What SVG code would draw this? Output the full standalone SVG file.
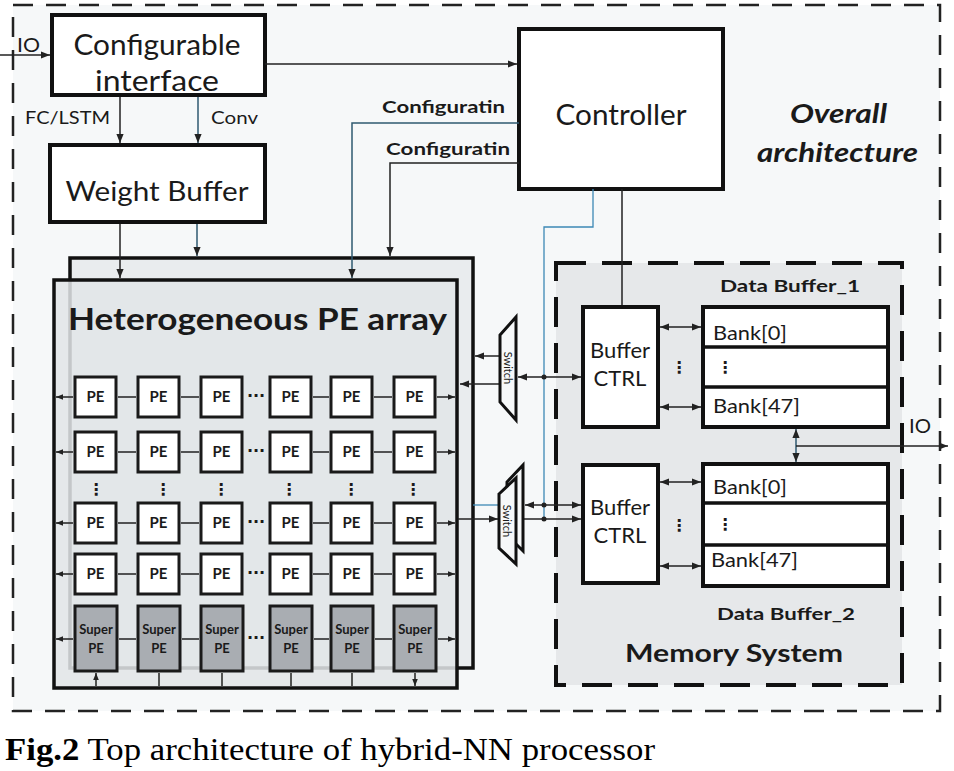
<svg xmlns="http://www.w3.org/2000/svg" width="954" height="771" viewBox="0 0 954 771">
<style>
.box{fill:#fff;stroke:#111;stroke-width:4}
.pe{fill:#fff;stroke:#1a1a1a;stroke-width:3}
.spe{fill:#a9adb2;stroke:#1a1a1a;stroke-width:3}
.t{font-family:Lato,"Liberation Sans",sans-serif;fill:#1a1a1a}
.b{font-weight:bold}
.pt{font-family:Lato,"Liberation Sans",sans-serif;font-weight:bold;font-size:15px;fill:#1a1a1a;text-anchor:middle}
.st{font-family:Lato,"Liberation Sans",sans-serif;font-weight:bold;font-size:13px;fill:#1a1a1a;text-anchor:middle}
.ln{fill:none;stroke:#222;stroke-width:1.5}
.bl{fill:none;stroke:#3d88b5;stroke-width:1.3}
.bg{fill:none;stroke:#2f5a70;stroke-width:1.5}
.pa{fill:none;stroke:#222;stroke-width:1.5;marker-start:url(#s);marker-end:url(#s)}
.dots{font-family:"DejaVu Sans",sans-serif;font-weight:bold;font-size:16px;fill:#1a1a1a;text-anchor:middle}
</style>
<defs>
<marker id="a" viewBox="0 0 10 10" refX="10" refY="5" markerWidth="10" markerHeight="9" markerUnits="userSpaceOnUse" orient="auto-start-reverse"><path d="M0,1 L10,5 L0,9 z" fill="#222"/></marker>
<marker id="s" viewBox="0 0 10 10" refX="10" refY="5" markerWidth="7" markerHeight="7" markerUnits="userSpaceOnUse" orient="auto-start-reverse"><path d="M0,1 L10,5 L0,9 z" fill="#222"/></marker>
</defs>
<rect width="954" height="771" fill="#fff"/>
<!-- overall dashed region -->
<rect id="overall" x="13" y="5" width="927" height="706" fill="#f6f8f9" stroke="#222" stroke-width="2.5" stroke-dasharray="20 13"/>
<!-- memory system region -->
<g id="memory-system">
<rect x="556" y="263" width="346" height="422" fill="#e6e8ea" stroke="#111" stroke-width="4" stroke-dasharray="30 16"/>
<text class="t b" x="625" y="662" font-size="24" textLength="218" lengthAdjust="spacingAndGlyphs">Memory System</text>
</g>
<!-- overall label -->
<g id="overall-label">
<text class="t b" font-style="italic" x="790" y="123" font-size="26" textLength="97" lengthAdjust="spacingAndGlyphs">Overall</text>
<text class="t b" font-style="italic" x="757" y="162" font-size="26" textLength="161" lengthAdjust="spacingAndGlyphs">architecture</text>
</g>
<!-- PE array layers -->
<g id="pe-array">
<rect x="70" y="258" width="403" height="410" fill="#e9ecee" stroke="#111" stroke-width="3.5"/>
<rect x="54" y="280" width="403" height="408" fill="#e2e5e8" fill-opacity="0.86" stroke="#111" stroke-width="3.5"/>
<text class="t b" x="68" y="330" font-size="30" textLength="379" lengthAdjust="spacingAndGlyphs">Heterogeneous PE array</text>
</g>
<!-- top boxes -->
<g id="configurable-interface">
<rect class="box" x="52" y="15" width="213" height="80"/>
<text class="t" x="157" y="55" font-size="28" text-anchor="middle" textLength="167" lengthAdjust="spacingAndGlyphs">Configurable</text>
<text class="t" x="157" y="91" font-size="28" text-anchor="middle" textLength="124" lengthAdjust="spacingAndGlyphs">interface</text>
</g>
<g id="weight-buffer">
<rect class="box" x="50" y="145" width="215" height="77"/>
<text class="t" x="157" y="201" font-size="26" text-anchor="middle" textLength="183" lengthAdjust="spacingAndGlyphs">Weight Buffer</text>
</g>
<g id="controller">
<rect class="box" x="519" y="29" width="204" height="160"/>
<text class="t" x="621" y="125" font-size="28" text-anchor="middle" textLength="131" lengthAdjust="spacingAndGlyphs">Controller</text>
</g>
<!-- connectors -->
<g id="connectors">
<path class="ln" d="M0,55 H50" marker-end="url(#a)"/>
<path class="ln" d="M265,64 H517" marker-end="url(#a)"/>
<path class="ln" d="M120,97 V143" marker-end="url(#a)"/>
<path class="bg" d="M198,97 V143" marker-end="url(#a)"/>
<path class="ln" d="M120,224 V278" marker-end="url(#a)"/>
<path class="bg" d="M197,224 V256" marker-end="url(#a)"/>
<path class="bg" d="M519,123 H352 V278" marker-end="url(#a)"/>
<path class="ln" d="M519,163 H390 V256" marker-end="url(#a)"/>
<path class="ln" d="M622,189 V307"/>
<path class="bl" d="M593,189 V227 H544 V519"/>
<path class="ln" d="M500,356 H475" marker-end="url(#a)"/>
<path class="ln" d="M500,384 H460" marker-end="url(#a)"/>
<path class="ln" d="M518,377 H581" marker-start="url(#a)" marker-end="url(#a)"/>
<path class="ln" d="M458,519 H498" marker-end="url(#a)"/>
<path class="bl" d="M473,505 H499"/>
<path class="ln" d="M525,505 H581" marker-start="url(#a)" marker-end="url(#a)"/>
<path class="ln" d="M516,519 H581" marker-end="url(#a)"/>
<circle cx="544" cy="377" r="2.5" fill="#222"/>
<circle cx="544" cy="505" r="2.5" fill="#222"/>
<circle cx="544" cy="519" r="2.5" fill="#222"/>
<path class="ln" d="M660,327 H701" marker-start="url(#a)" marker-end="url(#a)"/>
<path class="ln" d="M660,407 H701" marker-start="url(#a)" marker-end="url(#a)"/>
<path class="ln" d="M660,482 H701" marker-start="url(#a)" marker-end="url(#a)"/>
<path class="ln" d="M660,566 H701" marker-start="url(#a)" marker-end="url(#a)"/>
<path class="bg" d="M796,429 V462" marker-start="url(#a)" marker-end="url(#a)"/>
<path class="ln" d="M796,446 H948" marker-end="url(#a)"/>
<!-- PE row arrows -->
<path class="pa" d="M56,397 H73 M118,397 H136 M181,397 H199 M313,397 H329 M374,397 H392 M437,397 H455"/>
<path class="pa" d="M56,452 H73 M118,452 H136 M181,452 H199 M313,452 H329 M374,452 H392 M437,452 H455"/>
<path class="pa" d="M56,523 H73 M118,523 H136 M181,523 H199 M313,523 H329 M374,523 H392 M437,523 H455"/>
<path class="pa" d="M56,574 H73 M118,574 H136 M181,574 H199 M313,574 H329 M374,574 H392 M437,574 H455"/>
<path class="pa" d="M56,639 H73 M119,639 H136 M182,639 H199 M314,639 H329 M375,639 H392 M438,639 H455"/>
<path class="pa" d="M96,673 V686 M159,673 V686 M222,673 V686 M291,673 V686 M352,673 V686 M415,673 V686"/>
</g>
<!-- labels on connectors -->
<g id="connector-labels">
<text class="t" x="17" y="52" font-size="19" textLength="23" lengthAdjust="spacingAndGlyphs">IO</text>
<text class="t" x="25" y="124" font-size="18" textLength="85" lengthAdjust="spacingAndGlyphs">FC/LSTM</text>
<text class="t" x="211" y="124" font-size="18" textLength="47" lengthAdjust="spacingAndGlyphs">Conv</text>
<text class="t b" x="382" y="113" font-size="17" textLength="123" lengthAdjust="spacingAndGlyphs">Configuratin</text>
<text class="t b" x="386" y="155" font-size="17" textLength="124" lengthAdjust="spacingAndGlyphs">Configuratin</text>
<text class="t" x="909" y="433" font-size="19" textLength="22" lengthAdjust="spacingAndGlyphs">IO</text>
</g>
<!-- switches -->
<g id="switch-1">
<path d="M500,335 L516,317 L516,420 L500,402 Z" fill="#f6f8f9" stroke="#111" stroke-width="3"/>
<text class="t" font-size="11" text-anchor="middle" transform="translate(504,368) rotate(90)">Switch</text>
</g>
<g id="switch-2">
<path d="M507,482 L523,465 L523,551 L507,535 Z" fill="#f6f8f9" stroke="#111" stroke-width="3"/>
<path d="M499,494 L516,478 L516,564 L499,548 Z" fill="#f6f8f9" stroke="#111" stroke-width="3"/>
<text class="t" font-size="11" text-anchor="middle" transform="translate(503,521) rotate(90)">Switch</text>
</g>
<!-- buffer ctrl -->
<g id="buffer-ctrl-1">
<rect class="box" x="583" y="307" width="75" height="120"/>
<text class="t" x="620" y="358" font-size="22" text-anchor="middle">Buffer</text>
<text class="t" x="620" y="386" font-size="22" text-anchor="middle">CTRL</text>
</g>
<text class="dots" x="679" y="373">⋮</text>
<g id="buffer-ctrl-2">
<rect class="box" x="583" y="465" width="75" height="118"/>
<text class="t" x="620" y="515" font-size="22" text-anchor="middle">Buffer</text>
<text class="t" x="620" y="543" font-size="22" text-anchor="middle">CTRL</text>
</g>
<text class="dots" x="679" y="531">⋮</text>
<!-- data buffers -->
<g id="data-buffer-1">
<text class="t b" x="720" y="292" font-size="17" textLength="140" lengthAdjust="spacingAndGlyphs">Data Buffer_1</text>
<rect class="box" x="703" y="307" width="185" height="120"/>
<path d="M703,347 H888 M703,387 H888" stroke="#111" stroke-width="3.5"/>
<text class="t" x="713" y="340" font-size="20" textLength="74" lengthAdjust="spacingAndGlyphs">Bank[0]</text>
<text class="dots" x="725" y="373">⋮</text>
<text class="t" x="713" y="413" font-size="20" textLength="87" lengthAdjust="spacingAndGlyphs">Bank[47]</text>
</g>
<g id="data-buffer-2">
<rect class="box" x="703" y="464" width="185" height="122"/>
<path d="M703,503 H888 M703,545 H888" stroke="#111" stroke-width="3.5"/>
<text class="t" x="713" y="494" font-size="20" textLength="74" lengthAdjust="spacingAndGlyphs">Bank[0]</text>
<text class="dots" x="725" y="530">⋮</text>
<text class="t" x="711" y="567" font-size="20" textLength="87" lengthAdjust="spacingAndGlyphs">Bank[47]</text>
<text class="t b" x="717" y="620" font-size="17" textLength="138" lengthAdjust="spacingAndGlyphs">Data Buffer_2</text>
</g>
<!-- PE grid -->
<g id="pe-r1c1"><rect class="pe" x="75" y="377" width="41" height="40"/><text class="pt" x="95.5" y="402">PE</text></g>
<g id="pe-r1c2"><rect class="pe" x="138" y="377" width="41" height="40"/><text class="pt" x="158.5" y="402">PE</text></g>
<g id="pe-r1c3"><rect class="pe" x="201" y="377" width="41" height="40"/><text class="pt" x="221.5" y="402">PE</text></g>
<g id="pe-r1c4"><rect class="pe" x="270" y="377" width="41" height="40"/><text class="pt" x="290.5" y="402">PE</text></g>
<g id="pe-r1c5"><rect class="pe" x="331" y="377" width="41" height="40"/><text class="pt" x="351.5" y="402">PE</text></g>
<g id="pe-r1c6"><rect class="pe" x="394" y="377" width="41" height="40"/><text class="pt" x="414.5" y="402">PE</text></g>
<g id="pe-r2c1"><rect class="pe" x="75" y="432" width="41" height="40"/><text class="pt" x="95.5" y="457">PE</text></g>
<g id="pe-r2c2"><rect class="pe" x="138" y="432" width="41" height="40"/><text class="pt" x="158.5" y="457">PE</text></g>
<g id="pe-r2c3"><rect class="pe" x="201" y="432" width="41" height="40"/><text class="pt" x="221.5" y="457">PE</text></g>
<g id="pe-r2c4"><rect class="pe" x="270" y="432" width="41" height="40"/><text class="pt" x="290.5" y="457">PE</text></g>
<g id="pe-r2c5"><rect class="pe" x="331" y="432" width="41" height="40"/><text class="pt" x="351.5" y="457">PE</text></g>
<g id="pe-r2c6"><rect class="pe" x="394" y="432" width="41" height="40"/><text class="pt" x="414.5" y="457">PE</text></g>
<g id="pe-r3c1"><rect class="pe" x="75" y="503" width="41" height="40"/><text class="pt" x="95.5" y="528">PE</text></g>
<g id="pe-r3c2"><rect class="pe" x="138" y="503" width="41" height="40"/><text class="pt" x="158.5" y="528">PE</text></g>
<g id="pe-r3c3"><rect class="pe" x="201" y="503" width="41" height="40"/><text class="pt" x="221.5" y="528">PE</text></g>
<g id="pe-r3c4"><rect class="pe" x="270" y="503" width="41" height="40"/><text class="pt" x="290.5" y="528">PE</text></g>
<g id="pe-r3c5"><rect class="pe" x="331" y="503" width="41" height="40"/><text class="pt" x="351.5" y="528">PE</text></g>
<g id="pe-r3c6"><rect class="pe" x="394" y="503" width="41" height="40"/><text class="pt" x="414.5" y="528">PE</text></g>
<g id="pe-r4c1"><rect class="pe" x="75" y="554" width="41" height="40"/><text class="pt" x="95.5" y="579">PE</text></g>
<g id="pe-r4c2"><rect class="pe" x="138" y="554" width="41" height="40"/><text class="pt" x="158.5" y="579">PE</text></g>
<g id="pe-r4c3"><rect class="pe" x="201" y="554" width="41" height="40"/><text class="pt" x="221.5" y="579">PE</text></g>
<g id="pe-r4c4"><rect class="pe" x="270" y="554" width="41" height="40"/><text class="pt" x="290.5" y="579">PE</text></g>
<g id="pe-r4c5"><rect class="pe" x="331" y="554" width="41" height="40"/><text class="pt" x="351.5" y="579">PE</text></g>
<g id="pe-r4c6"><rect class="pe" x="394" y="554" width="41" height="40"/><text class="pt" x="414.5" y="579">PE</text></g>
<g id="super-pe-1"><rect class="spe" x="75" y="606" width="42" height="65"/><text class="st" x="96" y="634">Super</text><text class="st" x="96" y="653">PE</text></g>
<g id="super-pe-2"><rect class="spe" x="138" y="606" width="42" height="65"/><text class="st" x="159" y="634">Super</text><text class="st" x="159" y="653">PE</text></g>
<g id="super-pe-3"><rect class="spe" x="201" y="606" width="42" height="65"/><text class="st" x="222" y="634">Super</text><text class="st" x="222" y="653">PE</text></g>
<g id="super-pe-4"><rect class="spe" x="270" y="606" width="42" height="65"/><text class="st" x="291" y="634">Super</text><text class="st" x="291" y="653">PE</text></g>
<g id="super-pe-5"><rect class="spe" x="331" y="606" width="42" height="65"/><text class="st" x="352" y="634">Super</text><text class="st" x="352" y="653">PE</text></g>
<g id="super-pe-6"><rect class="spe" x="394" y="606" width="42" height="65"/><text class="st" x="415" y="634">Super</text><text class="st" x="415" y="653">PE</text></g>
<!-- ellipses -->
<g id="ellipses">
<text class="dots" x="256" y="401">···</text>
<text class="dots" x="256" y="456">···</text>
<text class="dots" x="256" y="527">···</text>
<text class="dots" x="256" y="578">···</text>
<text class="dots" x="256" y="643">···</text>
<text class="dots" x="96" y="495">⋮</text>
<text class="dots" x="163" y="495">⋮</text>
<text class="dots" x="221" y="495">⋮</text>
<text class="dots" x="289" y="495">⋮</text>
<text class="dots" x="351" y="495">⋮</text>
<text class="dots" x="413" y="495">⋮</text>
</g>
<!-- caption -->
<text x="5" y="760" font-family="'Liberation Serif',serif" font-size="32" fill="#000" textLength="650" lengthAdjust="spacingAndGlyphs"><tspan font-weight="bold">Fig.2</tspan> Top architecture of hybrid-NN processor</text>
</svg>
